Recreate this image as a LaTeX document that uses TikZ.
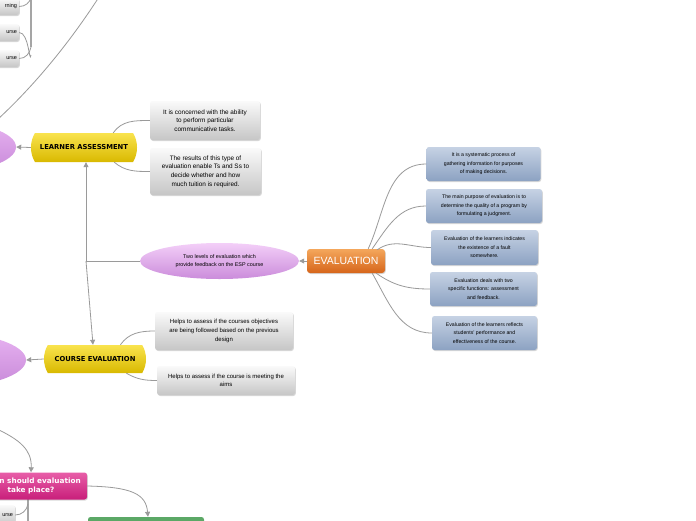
\documentclass[tikz,border=0pt]{standalone}
\usepackage{fontspec}
\setmainfont{Liberation Sans}
\setsansfont{DejaVu Sans}
\usetikzlibrary{shapes.geometric,shapes.misc,shadows,arrows.meta}
\definecolor{ln}{HTML}{9A9A9A}
\definecolor{bar}{HTML}{A5A5A5}
\definecolor{gtop}{HTML}{FAFAFA}
\definecolor{gbot}{HTML}{C6C6C6}
\definecolor{btop}{HTML}{C6D2E4}
\definecolor{bbot}{HTML}{8CA2C2}
\definecolor{otop}{HTML}{F4A75C}
\definecolor{obot}{HTML}{D6651A}
\definecolor{ytop}{HTML}{F9E34E}
\definecolor{ybot}{HTML}{D9B900}
\definecolor{ptop}{HTML}{E85EA8}
\definecolor{pbot}{HTML}{C81E7A}
\definecolor{vtop}{HTML}{F3CFF8}
\definecolor{vbot}{HTML}{CB8CDB}
\definecolor{ltop}{HTML}{E8B4F2}
\definecolor{lbot}{HTML}{C788D8}
\definecolor{grn}{HTML}{5BA866}
\begin{document}
\begin{tikzpicture}[x=1pt,y=-1pt,
  shad/.style={drop shadow={shadow xshift=0.8pt,shadow yshift=-1pt,opacity=0.3}},
  greybox/.style={rectangle, rounded corners=2.5pt, top color=gtop, bottom color=gbot, shad,
    align=center, inner sep=1pt, font=\fontsize{6.4}{8.6}\selectfont},
  bluebox/.style={rectangle, rounded corners=2.5pt, top color=btop, bottom color=bbot, shad,
    align=center, inner sep=1pt, font=\fontsize{5.2}{8.4}\selectfont},
  yelnode/.style={rounded rectangle, rounded rectangle arc length=60, top color=ytop, bottom color=ybot,
    inner sep=0pt, font=\sffamily\bfseries\fontsize{6.8}{8}\selectfont},
  purp/.style={ellipse, top color=vtop, bottom color=vbot, inner sep=0pt, align=center,
    font=\fontsize{5.4}{8}\selectfont},
  lpurp/.style={ellipse, top color=ltop, bottom color=lbot, inner sep=0pt},
  conn/.style={draw=ln, line width=0.8pt},
  arr/.style={conn, -{Triangle[length=5pt,width=5pt]}},
  thickbar/.style={draw=bar, line width=2.6pt}
]
\useasboundingbox (0,0) rectangle (696,520);
\fill[white] (0,0) rectangle (696,520);
\begin{scope}
\clip (0,0) rectangle (696,520);

% left partial ellipses
\node[lpurp, minimum width=152pt, minimum height=52pt] (ell1) at (-60,147) {};
\node[lpurp, minimum width=172pt, minimum height=56pt] (ell2) at (-60,360) {};

% top-left partial boxes
\node[greybox, minimum width=58pt, minimum height=17pt, text width=54pt, align=right, font=\fontsize{5.5}{6}\selectfont] (tb1) at (-10,6.5) {rning};
\node[greybox, minimum width=58pt, minimum height=17pt, text width=54pt, align=right, font=\fontsize{5.5}{6}\selectfont] (tb2) at (-10,32.5) {urse};
\node[greybox, minimum width=58pt, minimum height=17pt, text width=54pt, align=right, font=\fontsize{5.5}{6}\selectfont] (tb3) at (-10,58.5) {urse};
\node[greybox, minimum width=55pt, minimum height=20pt, text width=51pt, align=right, font=\fontsize{5.5}{6}\selectfont] (tb4) at (-12.5,515) {urse};

\coordinate (barT) at (31,-3);
\coordinate (barB) at (31,47);
\draw[thickbar] (barT) -- (barB);
\draw[conn] (tb1.east) to[out=0,in=-100] (barT);
\draw[conn] (tb2.east) to[out=0,in=-100] ([yshift=-8pt]barB);
\draw[conn] (tb3.east) to[out=0,in=-100] (barB);
\coordinate (bar2T) at (28,499);
\coordinate (bar2B) at (28,522);
\draw[thickbar] (bar2T) -- (bar2B);
\draw[conn] (tb4.east) to[out=0,in=-100] (28,504);

% long curve top
\coordinate (lcA) at (99,-3);
\coordinate (lcB) at (-3,120);
\draw[conn] (lcA) .. controls (70,42) and (35,85) .. (lcB);

% main nodes
\node[rectangle, rounded corners=3pt, top color=otop, bottom color=obot, shad, minimum width=78pt, minimum height=24pt,
  inner sep=0pt, text=white, font=\fontsize{10.5}{12}\selectfont] (ev) at (346,261) {EVALUATION};
\node[purp, minimum width=159pt, minimum height=36pt] (tl) at (219.5,261) {Two levels of evaluation which\\provide feedback on the ESP course};
\node[yelnode, minimum width=106pt, minimum height=29pt] (la) at (84,147.5) {LEARNER ASSESSMENT};
\node[yelnode, minimum width=102pt, minimum height=28pt] (ce) at (95,359) {COURSE EVALUATION};

% grey boxes
\node[greybox, minimum width=110pt, minimum height=39pt] (la1) at (205,120.5) {It is concerned with the ability\\to perform particular\\communicative tasks.};
\node[greybox, minimum width=111pt, minimum height=47pt] (la2) at (205.5,171.5) {The results of this type of\\evaluation enable Ts and Ss to\\decide whether and how\\much tuition is required.};
\node[greybox, minimum width=138pt, minimum height=38pt, font=\fontsize{6}{8.6}\selectfont] (ce1) at (224,331) {Helps to assess if the courses objectives\\are being followed based on the previous\\design};
\node[greybox, minimum width=138pt, minimum height=29pt, font=\fontsize{6}{8.6}\selectfont] (ce2) at (226,380.5) {Helps to assess if the course is meeting the\\aims};

% blue boxes
\node[bluebox, minimum width=114pt, minimum height=34pt] (b1) at (483.5,164) {It is a systematic process of\\gathering information for purposes\\of making decisions.};
\node[bluebox, minimum width=116pt, minimum height=34pt] (b2) at (484,206) {The main purpose of evaluation is to\\determine the quality of a program by\\formulating a judgment.};
\node[bluebox, minimum width=107pt, minimum height=35pt] (b3) at (484.5,247.5) {Evaluation of the learners indicates\\the existence of a fault\\somewhere.};
\node[bluebox, minimum width=107pt, minimum height=34pt] (b4) at (483.5,289) {Evaluation deals with two\\specific functions: assessment\\and feedback.};
\node[bluebox, minimum width=105pt, minimum height=34pt] (b5) at (484.5,333) {Evaluation of the learners reflects\\students' performance and\\effectiveness of the course.};

% pink and green
\node[rectangle, rounded corners=2.5pt, top color=ptop, bottom color=pbot, shad, minimum width=112pt, minimum height=27pt,
  inner sep=0pt, align=center, text=white, font=\sffamily\bfseries\fontsize{7.3}{9}\selectfont] (pk) at (31,486) {When should evaluation\\take place?};
\node[rectangle, rounded corners=2.5pt, fill=grn, minimum width=116pt, minimum height=26pt] (gr) at (146,530) {};

% connectors: evaluation to blue boxes
\draw[conn] ([xshift=-17pt]ev.north east) to[out=65,in=180] (b1.west);
\draw[conn] ([xshift=-13pt]ev.north east) to[out=55,in=180] (b2.west);
\draw[conn] ([xshift=-8pt,yshift=-1pt]ev.north east) to[out=35,in=180] (b3.west);
\draw[conn] ([xshift=-9pt]ev.south east) to[out=-35,in=180] (b4.west);
\draw[conn] ([xshift=-13pt]ev.south east) to[out=-60,in=180] (b5.west);

\draw[arr] (ev.west) -- (tl.east);
\coordinate (j) at (86,261);
\draw[conn] (tl.west) -- (j);
\draw[arr] (j) -- (j |- la.south);
\draw[arr] (j) -- ([xshift=-2pt]ce.north);

\draw[arr] (la.west) -- (ell1.east);
\draw[arr] (ce.west) -- (ell2.east);

\draw[conn] ([xshift=-20pt]la.north east) to[out=55,in=180] (la1.west);
\draw[conn] ([xshift=-19pt]la.south east) to[out=-40,in=180] (la2.west);
\draw[conn] ([xshift=-22pt]ce.north east) to[out=55,in=180] (ce1.west);
\draw[conn] ([xshift=-16pt]ce.south east) to[out=-30,in=180] (ce2.west);

\coordinate (bl) at (-3,429);
\draw[arr] (bl) .. controls (20,440) and (32,450) .. (pk.north);
\draw[arr] (pk.east) .. controls (132,487) and (146,494) .. ([xshift=2pt]gr.north);
\end{scope}
\end{tikzpicture}
\end{document}
